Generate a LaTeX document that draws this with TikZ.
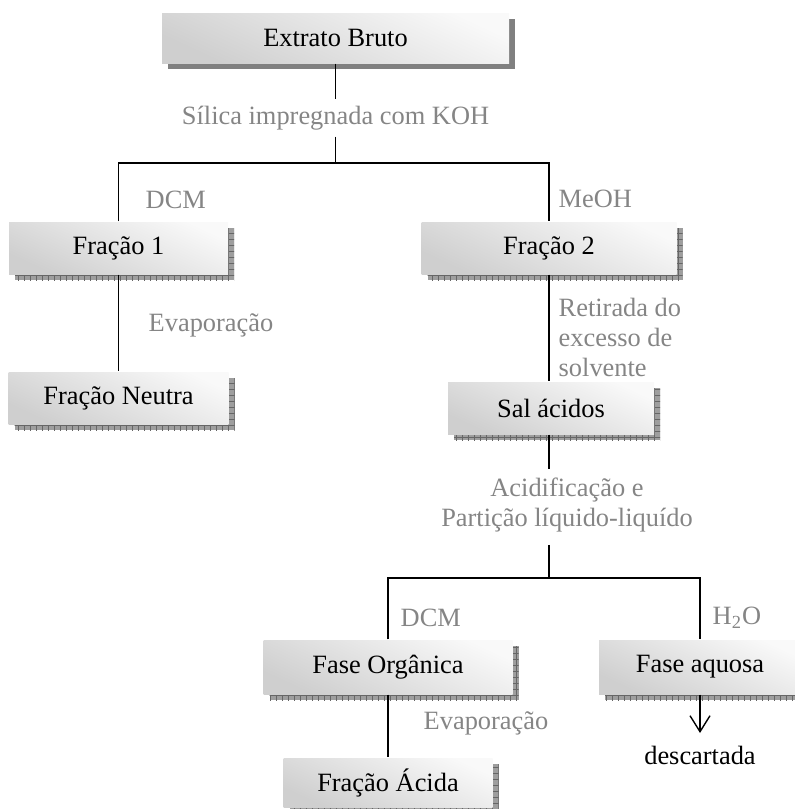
\documentclass[tikz,border=0pt]{standalone}
\usepackage{fontspec}
\setmainfont{Liberation Serif}
\usetikzlibrary{shadows,patterns,arrows.meta}
\tikzset{
    shaded-box/.style = {rectangle, top color=gray!5, bottom color=gray!38, shading angle=-25, inner sep=2pt},
    solid-box/.style = {shaded-box, drop shadow={shadow xshift=3pt, shadow yshift=-3pt, fill=black!50, opacity=1}},
    hatch-box/.style = {shaded-box, drop shadow={shadow xshift=3pt, shadow yshift=-3pt, fill=black!38, opacity=1, postaction={pattern=grid, pattern color=black!60}}},
    gray-label/.style = {text=black!48, inner sep=0pt},
}

\begin{document}
\begin{tikzpicture}[x=0.5pt, y=-0.5pt, font=\fontsize{13.2pt}{15pt}\selectfont, line width=0.7pt]
\useasboundingbox (0,0) rectangle (795,809);
% boxes
\node[solid-box, minimum width=173.5pt, minimum height=25pt] (bruto) at (335.5,38) {Extrato Bruto};
\node[hatch-box, minimum width=109.5pt, minimum height=26pt] (frac1) at (118.5,248) {Fração 1};
\node[hatch-box, minimum width=127.5pt, minimum height=26pt] (frac2) at (549,248) {Fração 2};
\node[hatch-box, minimum width=110pt, minimum height=26pt] (neutra) at (118.5,398) {Fração Neutra};
\node[hatch-box, minimum width=103pt, minimum height=26pt] (sal) at (551,408) {Sal ácidos};
\node[hatch-box, minimum width=124.5pt, minimum height=27pt] (organica) at (388,667) {Fase Orgânica};
\node[hatch-box, minimum width=101pt, minimum height=27pt] (aquosa) at (700,667) {Fase aquosa};
\node[hatch-box, minimum width=104.5pt, minimum height=24.5pt] (acida) at (388,782.5) {Fração Ácida};
% labels
\node[gray-label] (silica) at (335.5,118) {Sílica impregnada com KOH};
\node[gray-label, anchor=west] (dcm1) at (145,200) {DCM};
\node[gray-label, anchor=west] (meoh) at (558,199) {MeOH};
\node[gray-label, anchor=west] (evap1) at (148,325) {Evaporação};
\node[gray-label, anchor=west, align=left] (retirada) at (558,337) {Retirada do\\excesso de\\solvente};
\node[gray-label, align=center] (acid) at (567,505) {Acidificação e\\Partição líquido-liquído};
\node[gray-label, anchor=west] (dcm2) at (400,618) {DCM};
\node[gray-label, anchor=west] (h2o) at (712,618) {H\textsubscript{2}O};
\node[gray-label, anchor=west] (evap2) at (423,723) {Evaporação};
\node[inner sep=0pt] (descartada) at (700,755) {descartada};
% connectors
\coordinate (split1) at (bruto |- 0,163);
\coordinate (split2) at (frac2 |- 0,578);
\coordinate (acid-top) at ([yshift=4pt]acid.north -| split2);
\coordinate (acid-bottom) at ([yshift=-6pt]acid.south -| split2);
\draw (bruto.south) -- ([yshift=3pt]silica.north);
\draw ([yshift=-3pt]silica.south) -- (split1);
\draw (frac1.north) -- (frac1 |- split1) -- (frac2 |- split1) -- (frac2.north);
\draw (frac1.south) -- (neutra.north);
\draw (frac2.south) -- (frac2.south |- sal.north);
\draw (sal.south -| split2) -- (acid-top);
\draw (acid-bottom) -- (split2);
\draw (organica.north) -- (organica |- split2) -- (aquosa |- split2) -- (aquosa.north);
\draw (organica.south) -- (acida.north);
\coordinate (drop) at (aquosa |- 0,733);
\draw[-{Straight Barb[length=8pt, width=10pt]}] (aquosa.south) -- (drop);
\end{tikzpicture}
\end{document}
